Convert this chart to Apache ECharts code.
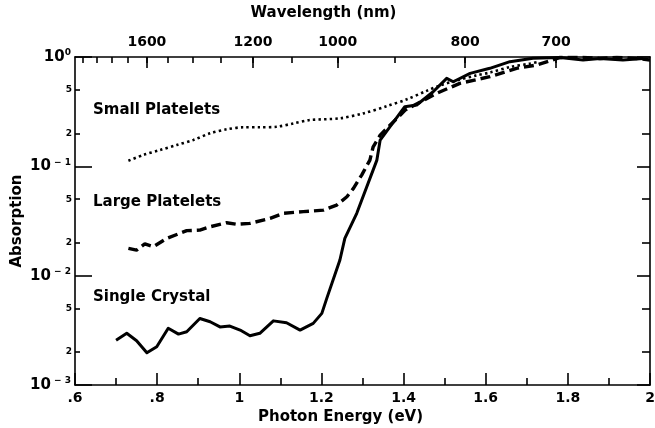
<!DOCTYPE html>
<html>
<head>
<meta charset="utf-8">
<title>Absorption</title>
<script src="https://cdn.jsdelivr.net/npm/echarts@6.0.0/dist/echarts.min.js"></script>
<style>
    html, body { margin: 0; padding: 0; background: #fff; }
    #main { width: 655px; height: 428px; }
</style>
</head>
<body>
<div id="main"></div>
<script>
    // photon energy (eV) / absorption
    const crystalE = [0.70, 0.726, 0.75, 0.775, 0.799, 0.827, 0.852, 0.872, 0.904, 0.929, 0.953, 0.977, 1.002, 1.026, 1.05, 1.083, 1.115, 1.148, 1.18, 1.201, 1.213, 1.245, 1.257, 1.286, 1.335, 1.343, 1.403, 1.432, 1.472, 1.505, 1.521, 1.562, 1.61, 1.659, 1.715, 1.781, 1.837, 1.878, 1.934, 1.983];
    const crystalA = [0.00257, 0.00297, 0.00254, 0.00197, 0.00224, 0.0033, 0.00292, 0.00307, 0.00406, 0.00379, 0.0034, 0.00346, 0.00318, 0.00282, 0.00297, 0.00386, 0.00371, 0.00318, 0.00366, 0.00452, 0.0062, 0.0139, 0.0219, 0.0372, 0.114, 0.174, 0.351, 0.364, 0.481, 0.638, 0.594, 0.709, 0.788, 0.906, 0.973, 0.99, 0.94, 0.97, 0.94, 0.97];

    const largeE = [0.73, 0.75, 0.77, 0.791, 0.823, 0.872, 0.904, 0.929, 0.969, 0.994, 1.026, 1.075, 1.107, 1.156, 1.205, 1.237, 1.262, 1.278, 1.298, 1.318, 1.326, 1.343, 1.404, 1.481, 1.537, 1.61, 1.675, 1.724, 1.781, 1.837, 1.878, 1.919, 1.968, 2.0];
    const largeA = [0.0178, 0.0171, 0.0195, 0.0184, 0.0219, 0.0258, 0.0261, 0.028, 0.0305, 0.0295, 0.0301, 0.0334, 0.0372, 0.0385, 0.0398, 0.0442, 0.0527, 0.0629, 0.0832, 0.114, 0.151, 0.193, 0.327, 0.466, 0.574, 0.661, 0.788, 0.845, 0.99, 0.99, 0.97, 0.99, 0.97, 0.94];

    const smallE = [0.73, 0.766, 0.807, 0.848, 0.888, 0.929, 0.969, 1.01, 1.05, 1.091, 1.132, 1.172, 1.245, 1.302, 1.359, 1.408, 1.456, 1.489, 1.529, 1.578, 1.61, 1.659, 1.708, 1.727];
    const smallA = [0.1125, 0.127, 0.141, 0.157, 0.174, 0.2005, 0.218, 0.2275, 0.2275, 0.23, 0.247, 0.265, 0.275, 0.305, 0.355, 0.41, 0.49, 0.55, 0.61, 0.68, 0.72, 0.81, 0.87, 0.90];

    // top axis, wavelength in nm
    const wlLabels = [1600, 1200, 1000, 800, 700];
    const wlTicks = [2000, 1900, 1800, 1700, 1600, 1500, 1400, 1300, 1200, 1100, 1000, 900, 800, 700];
    // log axis
    const decades = [0.001, 0.01, 0.1, 1];
    const minorVals = [0.002, 0.005, 0.02, 0.05, 0.2, 0.5];

    const font = '"DejaVu Sans", Arial, sans-serif';
    const toEnergy = wl => 1240 / wl;
    const pairs = (xs, ys) => xs.map((x, i) => [x, ys[i]]);

    const axisLine = { show: true, lineStyle: { color: '#000', width: 1.6 } };

    let charts = echarts.init(document.getElementById('main'));
    charts.setOption({
        animation: false,
        textStyle: { fontFamily: font, color: '#000' },
        grid: { left: 75, right: 5, top: 57, bottom: 43, containLabel: false, outerBoundsMode: 'none' },
        xAxis: [
            {
                type: 'value', position: 'bottom', min: 0.6, max: 2.0, interval: 0.2,
                name: 'Photon Energy (eV)', nameLocation: 'middle', nameGap: 20,
                nameTextStyle: { fontSize: 15, fontWeight: 'bold', color: '#000', padding: [0, 44, 0, 0] },
                axisLine: axisLine,
                axisTick: { inside: true, length: 12, lineStyle: { color: '#000', width: 1.6 } },
                minorTick: { show: true, splitNumber: 2, length: 7, lineStyle: { color: '#000', width: 1.6 } },
                splitLine: { show: false },
                axisLabel: {
                    fontSize: 14, fontWeight: 'bold', color: '#000', margin: 6,
                    formatter: v => String(+v.toFixed(1)).replace(/^0\./, '.')
                }
            },
            {
                type: 'value', position: 'top', min: 0.6, max: 2.0,
                name: 'Wavelength (nm)', nameLocation: 'middle', nameGap: 36,
                nameTextStyle: { fontSize: 15, fontWeight: 'bold', color: '#000', padding: [0, 78, 0, 0] },
                axisLine: axisLine,
                axisTick: { inside: true, length: 11, customValues: wlLabels.map(toEnergy), lineStyle: { color: '#000', width: 1.6 } },
                splitLine: { show: false },
                axisLabel: {
                    fontSize: 14, fontWeight: 'bold', color: '#000', margin: 8,
                    customValues: wlLabels.map(toEnergy),
                    formatter: v => String(Math.round(1240 / v))
                }
            },
            {
                type: 'value', position: 'top', min: 0.6, max: 2.0,
                axisLine: { show: false },
                axisTick: { inside: true, length: 6, customValues: wlTicks.map(toEnergy), lineStyle: { color: '#000', width: 1.6 } },
                splitLine: { show: false },
                axisLabel: { show: false }
            }
        ],
        yAxis: [
            {
                type: 'log', logBase: 10, min: 0.001, max: 1, position: 'left',
                name: 'Absorption', nameLocation: 'middle', nameGap: 50, nameMoveOverlap: false,
                nameTextStyle: { fontSize: 15, fontWeight: 'bold', color: '#000' },
                axisLine: axisLine,
                axisTick: { inside: true, length: 17, customValues: decades, lineStyle: { color: '#000', width: 1.6 } },
                splitLine: { show: false },
                axisLabel: {
                    customValues: decades, margin: 4,
                    formatter: v => {
                        const e = Math.round(Math.log10(v));
                        return e === 0 ? '{b|10}{s|0}' : '{b|10}{s| − ' + (-e) + '}';
                    },
                    rich: {
                        b: { fontSize: 15, fontWeight: 'bold', fontFamily: font, color: '#000' },
                        s: { fontSize: 9, fontWeight: 'bold', fontFamily: font, color: '#000', verticalAlign: 'top', padding: [0, 0, 8, 0] }
                    }
                }
            },
            {
                type: 'log', logBase: 10, min: 0.001, max: 1, position: 'left',
                axisLine: { show: false },
                axisTick: { inside: true, length: 5, customValues: minorVals, lineStyle: { color: '#000', width: 1.6 } },
                splitLine: { show: false },
                axisLabel: {
                    customValues: minorVals, margin: 3, fontSize: 9, fontWeight: 'bold', color: '#000',
                    formatter: v => String(Math.round(v / Math.pow(10, Math.floor(Math.log10(v) + 1e-9))))
                }
            },
            {
                type: 'log', logBase: 10, min: 0.001, max: 1, position: 'right',
                axisLine: axisLine,
                axisTick: { inside: true, length: 13, customValues: decades, lineStyle: { color: '#000', width: 1.6 } },
                splitLine: { show: false },
                axisLabel: { show: false }
            },
            {
                type: 'log', logBase: 10, min: 0.001, max: 1, position: 'right',
                axisLine: { show: false },
                axisTick: { inside: true, length: 8, customValues: minorVals, lineStyle: { color: '#000', width: 1.6 } },
                splitLine: { show: false },
                axisLabel: { show: false }
            }
        ],
        // curve names written inside the plot
        graphic: [
            { type: 'text', left: 93, top: 103, style: { text: 'Small Platelets', font: 'bold 15px ' + font, fill: '#000' } },
            { type: 'text', left: 93, top: 195, style: { text: 'Large Platelets', font: 'bold 15px ' + font, fill: '#000' } },
            { type: 'text', left: 93, top: 290, style: { text: 'Single Crystal', font: 'bold 15px ' + font, fill: '#000' } }
        ],
        series: [
            {
                name: 'Small Platelets', type: 'line', showSymbol: false, smooth: 0.3,
                lineStyle: { color: '#000', width: 2.6, type: [2.4, 3.2] },
                data: pairs(smallE, smallA)
            },
            {
                name: 'Large Platelets', type: 'line', showSymbol: false,
                lineStyle: { color: '#000', width: 3.4, type: [10, 5] },
                data: pairs(largeE, largeA)
            },
            {
                name: 'Single Crystal', type: 'line', showSymbol: false,
                lineStyle: { color: '#000', width: 3, join: 'round' },
                data: pairs(crystalE, crystalA)
            }
        ]
    });
</script>
</body>
</html>
